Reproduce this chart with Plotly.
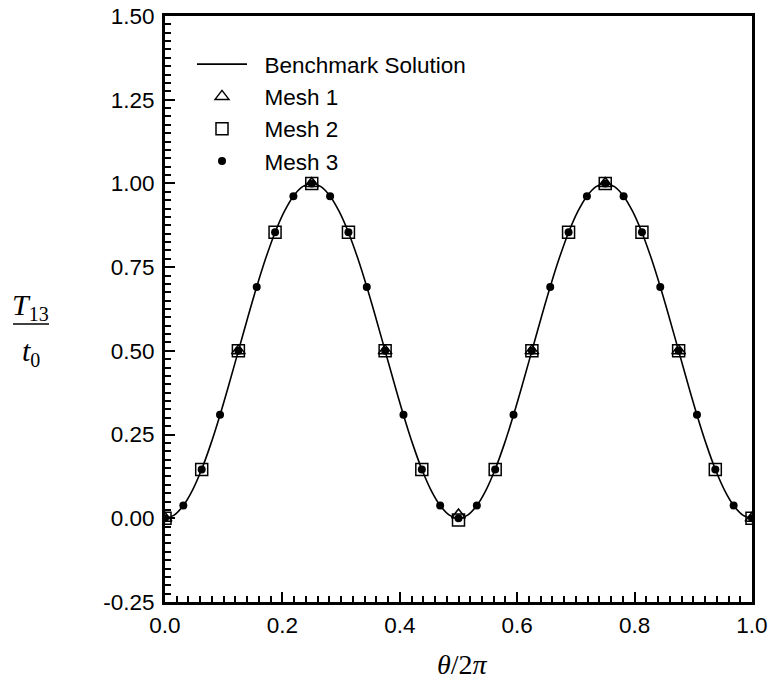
import plotly.graph_objects as go

# ---- data ----
bench_x = [i / 64 for i in range(65)]
bench_y = [0.0, 0.0096, 0.0381, 0.0843, 0.1464, 0.2222, 0.3087, 0.4025,
           0.5, 0.5975, 0.6913, 0.7778, 0.8536, 0.9157, 0.9619, 0.9904,
           1.0, 0.9904, 0.9619, 0.9157, 0.8536, 0.7778, 0.6913, 0.5975,
           0.5, 0.4025, 0.3087, 0.2222, 0.1464, 0.0843, 0.0381, 0.0096,
           0.0, 0.0096, 0.0381, 0.0843, 0.1464, 0.2222, 0.3087, 0.4025,
           0.5, 0.5975, 0.6913, 0.7778, 0.8536, 0.9157, 0.9619, 0.9904,
           1.0, 0.9904, 0.9619, 0.9157, 0.8536, 0.7778, 0.6913, 0.5975,
           0.5, 0.4025, 0.3087, 0.2222, 0.1464, 0.0843, 0.0381, 0.0096, 0.0]

mesh1_x = [0.0, 0.125, 0.25, 0.375, 0.5, 0.625, 0.75, 0.875, 1.0]
mesh1_y = [0.0, 0.5, 1.0, 0.5, 0.01, 0.5, 1.0, 0.5, 0.0]

mesh2_x = [i / 16 for i in range(17)]
mesh2_y = [0.0, 0.146, 0.5, 0.854, 1.0, 0.854, 0.5, 0.146, -0.005,
           0.146, 0.5, 0.854, 1.0, 0.854, 0.5, 0.146, 0.0]

mesh3_x = [i / 32 for i in range(33)]
mesh3_y = [0.0, 0.038, 0.146, 0.309, 0.5, 0.691, 0.854, 0.962, 1.0,
           0.962, 0.854, 0.691, 0.5, 0.309, 0.146, 0.038, 0.0,
           0.038, 0.146, 0.309, 0.5, 0.691, 0.854, 0.962, 1.0,
           0.962, 0.854, 0.691, 0.5, 0.309, 0.146, 0.038, 0.0]

series_names = ["Benchmark Solution", "Mesh 1", "Mesh 2", "Mesh 3"]

x_ticks = [0.0, 0.2, 0.4, 0.6, 0.8, 1.0]
x_tick_labels = ["0.0", "0.2", "0.4", "0.6", "0.8", "1.0"]
y_ticks = [-0.25, 0.0, 0.25, 0.5, 0.75, 1.0, 1.25, 1.5]
y_tick_labels = ["-0.25", "0.00", "0.25", "0.50", "0.75", "1.00", "1.25", "1.50"]

# ---- layout constants (pixels) ----
W, H = 770, 682
PL, PR, PT, PB = 165, 752, 16, 602  # plot box
L, T, R, B = PL, PT, W - PR, H - PB
PW, PH = PR - PL, PB - PT


def px(x):
    return (x - PL) / PW


def py(y):
    return (PB - y) / PH


SANS = "Liberation Sans, Arial, sans-serif"
SERIF = "Liberation Serif, Times New Roman, serif"
FS = 22.5
PAD = "\u00a0\u00a0"  # small gap between legend symbol and its text

fig = go.Figure()
fig.add_trace(go.Scatter(x=bench_x, y=bench_y, mode="lines", name=PAD + series_names[0],
                         line=dict(color="black", width=1.6, shape="spline")))
fig.add_trace(go.Scatter(x=mesh1_x, y=mesh1_y, mode="markers", name=PAD + series_names[1],
                         marker=dict(symbol="triangle-up-open", size=12, color="black",
                                     line=dict(width=1.5, color="black"))))
fig.add_trace(go.Scatter(x=mesh2_x, y=mesh2_y, mode="markers", name=PAD + series_names[2],
                         marker=dict(symbol="square-open", size=12, color="black",
                                     line=dict(width=1.5, color="black"))))
fig.add_trace(go.Scatter(x=mesh3_x, y=mesh3_y, mode="markers", name=PAD + series_names[3],
                         marker=dict(symbol="circle", size=8, color="black")))

axis_common = dict(showgrid=False, zeroline=False, showline=True, linecolor="black",
                   linewidth=3, mirror=True, ticks="inside", tickcolor="black",
                   tickwidth=2, ticklen=10, ticklabeloverflow="allow",
                   tickfont=dict(family=SANS, size=FS, color="black"))

fig.update_xaxes(range=[0, 1], tickvals=x_ticks, ticktext=x_tick_labels,
                 minor=dict(dtick=0.02, ticks="inside", ticklen=6, tickwidth=1.5,
                            tickcolor="black"),
                 ticklabelstandoff=1, **axis_common)
fig.update_yaxes(range=[-0.25, 1.5], tickvals=y_ticks, ticktext=y_tick_labels,
                 minor=dict(dtick=0.025, tick0=0, ticks="inside", ticklen=6,
                            tickwidth=1.5, tickcolor="black"),
                 ticklabelstandoff=3, **axis_common)

fig.update_layout(
    width=W, height=H, margin=dict(l=L, r=R, t=T, b=B, autoexpand=False),
    plot_bgcolor="white", paper_bgcolor="white",
    showlegend=True,
    legend=dict(x=px(192), y=py(43), xanchor="left", yanchor="top",
                bgcolor="rgba(0,0,0,0)", borderwidth=0, itemwidth=50,
                font=dict(family=SANS, size=FS, color="black"), tracegroupgap=0),
)

# x-axis title
fig.add_annotation(x=px(463), y=py(664), xref="paper", yref="paper",
                   text="<i>θ</i>/2<i>π</i>", showarrow=False,
                   font=dict(family=SERIF, size=28, color="black"),
                   xanchor="center", yanchor="middle")
# y-axis title as a fraction T13 / t0
fig.add_annotation(x=px(30), y=py(306), xref="paper", yref="paper",
                   text="<i>T</i><sub><span style='font-size:20px'>13</span></sub>",
                   showarrow=False,
                   font=dict(family=SERIF, size=30, color="black"),
                   xanchor="center", yanchor="middle")
fig.add_shape(type="line", xref="paper", yref="paper",
              x0=px(13), x1=px(49), y0=py(324), y1=py(324),
              line=dict(color="black", width=1.5))
fig.add_annotation(x=px(31), y=py(352), xref="paper", yref="paper",
                   text="<i>t</i><sub><span style='font-size:20px'>0</span></sub>",
                   showarrow=False,
                   font=dict(family=SERIF, size=30, color="black"),
                   xanchor="center", yanchor="middle")

fig.write_html("out.html",
               config={"displayModeBar": False},
               post_script="document.body.style.margin='0';"
                           "document.body.style.overflow='hidden';")
